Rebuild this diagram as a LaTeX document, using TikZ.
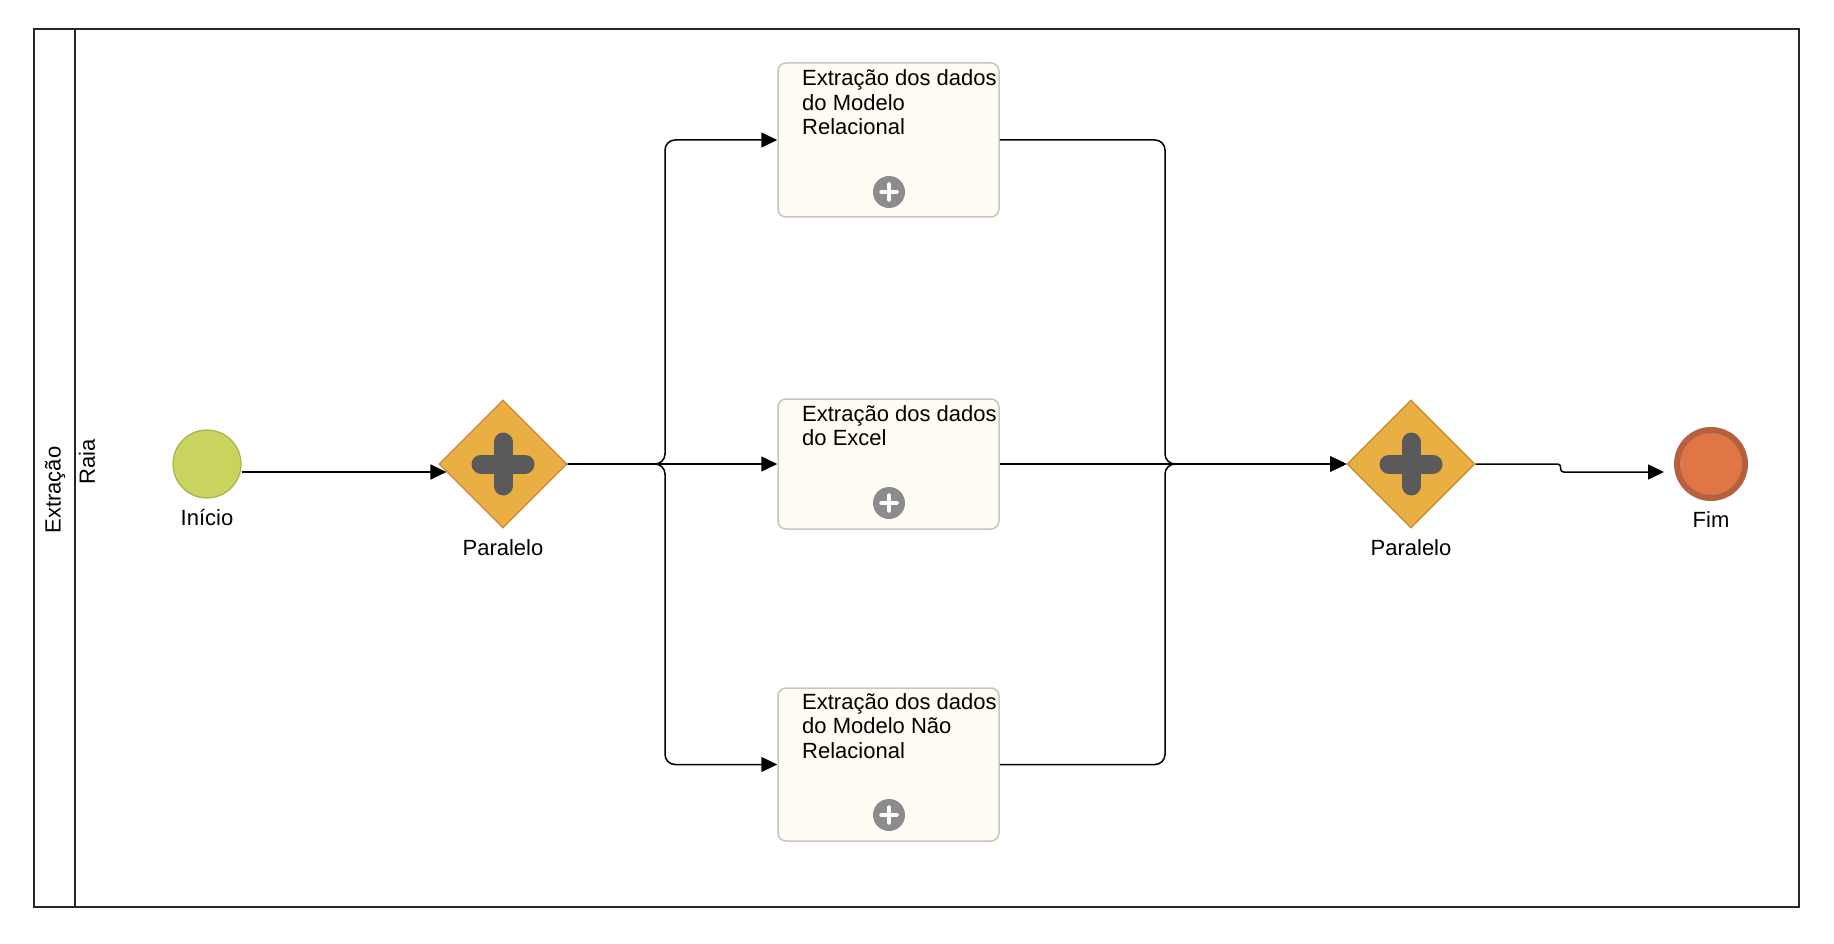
\documentclass[tikz,border=0pt]{standalone}
\usepackage{fontspec}
\setmainfont{Liberation Sans}
\usetikzlibrary{shapes.geometric,arrows.meta,calc}
\definecolor{startfill}{HTML}{C9D45E}
\definecolor{startdraw}{HTML}{A6B34A}
\definecolor{endfill}{HTML}{E07546}
\definecolor{enddraw}{HTML}{B5613F}
\definecolor{gwfill}{HTML}{E9AF43}
\definecolor{gwdraw}{HTML}{CC8A2E}
\definecolor{gwcross}{HTML}{5A5A5A}
\definecolor{taskfill}{HTML}{FFFCF4}
\definecolor{taskdraw}{HTML}{C8C6BC}
\definecolor{plusgrey}{HTML}{8C8C8C}
\begin{document}
\begin{tikzpicture}[x=1pt,y=-1pt,
  lbl/.style={font=\fontsize{22}{25}\selectfont, inner sep=0pt},
  poolline/.style={draw=black!85, line width=1.5pt},
  startev/.style={circle, fill=startfill, draw=startdraw, line width=1.2pt, minimum size=68pt, inner sep=0pt},
  endev/.style={circle, fill=endfill, draw=enddraw, line width=6pt, minimum size=68pt, inner sep=0pt},
  gateway/.style={diamond, fill=gwfill, draw=gwdraw, line width=1.2pt, minimum width=128pt, minimum height=128pt, inner sep=0pt},
  taskbox/.style={rectangle, rounded corners=8pt, fill=taskfill, draw=taskdraw, line width=1.5pt, minimum width=221pt, inner sep=0pt},
  tasktext/.style={font=\fontsize{22}{24.5}\selectfont, align=left, inner sep=0pt, anchor=base west},
  flow/.style={draw=black, line width=1.5pt, -{Triangle[length=16pt,width=15pt]}},
]
\useasboundingbox (0,0) rectangle (1834,944);
\fill[white] (0,0) rectangle (1834,944);

% pool and lane
\draw[poolline] (34,29) rectangle (1799,907);
\draw[poolline] (75,29) -- (75,907);
\node[lbl, rotate=90] (pool) at (55,490) {Extração};
\node[lbl, rotate=90] (lane) at (87,462) {Raia};

% events
\node[startev] (s) at (207,464) {};
\node[lbl, anchor=base] (sl) at (207,525) {Início};
\node[endev] (e) at (1711,464) {};
\node[lbl, anchor=base] (el) at (1711,527) {Fim};

% gateways
\node[gateway] (g1) at (503,464) {};
\draw[gwcross, line width=19pt, line cap=round] (481,464) -- (525,464) (503,442) -- (503,486);
\node[lbl, anchor=base] (g1l) at (503,555) {Paralelo};
\node[gateway] (g2) at (1411,464) {};
\draw[gwcross, line width=19pt, line cap=round] (1389,464) -- (1433,464) (1411,442) -- (1411,486);
\node[lbl, anchor=base] (g2l) at (1411,555) {Paralelo};

% tasks
\node[taskbox, minimum height=154pt] (t1) at (888.5,140) {};
\node[tasktext] (t1l) at (802,135) {Extração dos dados\\do Modelo\\Relacional};
\node[taskbox, minimum height=130pt] (t2) at (888.5,464) {};
\node[tasktext] (t2l) at (802,445.5) {Extração dos dados\\do Excel};
\node[taskbox, minimum height=153pt] (t3) at (888.5,764.5) {};
\node[tasktext] (t3l) at (802,758) {Extração dos dados\\do Modelo Não\\Relacional};

% sub-process markers
\foreach \n/\y in {p1/192, p2/503, p3/815}{
  \node[circle, fill=plusgrey, minimum size=32pt, inner sep=0pt] (\n) at (889,\y) {};
  \draw[white, line width=4.5pt, line cap=round] (881.5,\y) -- (896.5,\y) (889,\y-7.5) -- (889,\y+7.5);
}

% coordinates for routing
\coordinate (fx) at (665,464);
\coordinate (mx) at (1165,464);

% connectors
\draw[flow] ([yshift=-8pt]s.east) -- ([xshift=8pt,yshift=-8pt]g1.west);
\draw[flow, rounded corners=10pt] (g1.east) -| (fx |- t1.west) -- (t1.west);
\draw[flow] (g1.east) -- (t2.west);
\draw[flow, rounded corners=10pt] (g1.east) -| (fx |- t3.west) -- (t3.west);
\draw[flow, rounded corners=10pt] (t1.east) -| (mx) -- (g2.west);
\draw[flow] (t2.east) -- (g2.west);
\draw[flow, rounded corners=10pt] (t3.east) -| (mx) -- (g2.west);
\draw[flow, rounded corners=3pt] (g2.east) -- ++(85,0) -- ++(0,8) -- ([xshift=-10pt,yshift=-8pt]e.west);
\end{tikzpicture}
\end{document}
